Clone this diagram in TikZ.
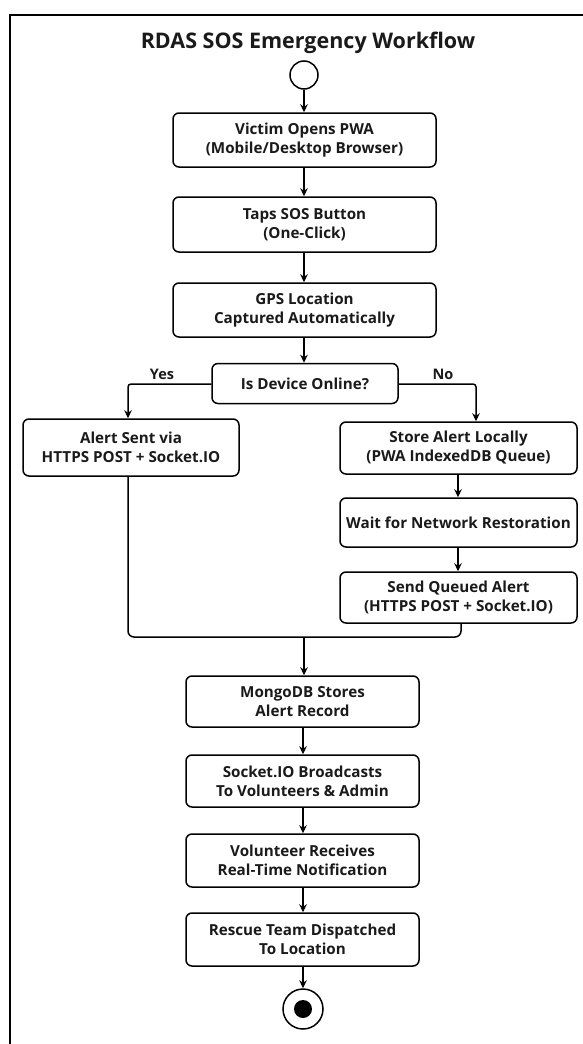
\documentclass[tikz,border=0pt]{standalone}
\usepackage{fontspec}
\setmainfont{Open Sans}
\usetikzlibrary{arrows.meta}
\definecolor{ink}{HTML}{1A1A1A}
\tikzset{
  box/.style={draw=black, line width=1.5pt, rounded corners=6pt, align=center,
    text=ink, font=\bfseries\fontsize{15.2}{19}\selectfont, inner sep=0pt},
  lbl/.style={text=ink, font=\bfseries\fontsize{14.5}{16}\selectfont, inner sep=0pt, anchor=base},
  arr/.style={draw=black, line width=1.5pt, -{Stealth[length=8pt, width=7.5pt]}},
  conn/.style={draw=black, line width=1.5pt},
  frameline/.style={draw=black, line width=2.5pt}
}
\begin{document}
\begin{tikzpicture}[x=1pt, y=-1pt]
\useasboundingbox (0,0) rectangle (582,1044);
\fill[white] (0,0) rectangle (582,1044);
% frame (cropped)
\coordinate (fTL) at (10,15);
\coordinate (fTR) at (584,15);
\coordinate (fBL) at (10,1046);
\draw[frameline] (fBL) -- (fTL) -- (fTR);

\node[text=ink, font=\bfseries\fontsize{21.5}{24}\selectfont, inner sep=0pt, anchor=base] (title) at (308,48) {RDAS SOS Emergency Workflow};

\node[draw=black, line width=1.5pt, circle, minimum size=28pt, inner sep=0pt] (start) at (304,75) {};

\node[box, minimum width=263pt, minimum height=54pt] (b1) at (304.5,140) {Victim Opens PWA\\(Mobile/Desktop Browser)};
\node[box, minimum width=263pt, minimum height=55pt] (b2) at (304.5,224.5) {Taps SOS Button\\(One-Click)};
\node[box, minimum width=263pt, minimum height=54pt] (b3) at (304.5,310) {GPS Location\\Captured Automatically};
\node[box, minimum width=186pt, minimum height=40pt] (dec) at (305,383.5) {Is Device Online?};

\node[box, minimum width=216pt, minimum height=57pt] (alert) at (131,447.5) {Alert Sent via\\HTTPS POST + Socket.IO};
\node[box, minimum width=237pt, minimum height=52pt] (store) at (458.5,448) {Store Alert Locally\\(PWA IndexedDB Queue)};
\node[box, minimum width=237pt, minimum height=49pt] (wait) at (458.5,522.5) {Wait for Network Restoration};
\node[box, minimum width=237pt, minimum height=51pt] (send) at (458.5,597.5) {Send Queued Alert\\(HTTPS POST + Socket.IO)};

\node[box, minimum width=233pt, minimum height=51pt] (mongo) at (302.5,701.5) {MongoDB Stores\\Alert Record};
\node[box, minimum width=233pt, minimum height=52pt] (sock) at (302.5,781) {Socket.IO Broadcasts\\To Volunteers \& Admin};
\node[box, minimum width=233pt, minimum height=53pt] (vol) at (302.5,860.5) {Volunteer Receives\\Real-Time Notification};
\node[box, minimum width=233pt, minimum height=53pt] (resc) at (302.5,939.5) {Rescue Team Dispatched\\To Location};

\node[draw=black, line width=1.5pt, circle, minimum size=40pt, inner sep=0pt] (end) at (303,1009) {};
\fill[black] (end.center) circle (9pt);

\node[lbl] (yes) at (162,379) {Yes};
\node[lbl] (no) at (443,379) {No};

% connectors
\draw[arr] (start) -- (start |- b1.north);
\draw[arr] (b1.south -| start) -- (b2.north -| start);
\draw[arr] (b2.south -| start) -- (b3.north -| start);
\draw[arr] (b3.south -| start) -- (dec.north -| start);

\coordinate (ly) at (128,384);
\coordinate (ry) at (476,384);
\draw[arr, rounded corners=3pt] (dec.west |- ly) -- (ly) -- (ly |- alert.north);
\draw[arr, rounded corners=3pt] (dec.east |- ry) -- (ry) -- (ry |- store.north);

\coordinate (rx) at (458,0);
\draw[arr] (store.south -| rx) -- (wait.north -| rx);
\draw[arr] (wait.south -| rx) -- (send.north -| rx);

\coordinate (merge) at (304,637);
\coordinate (sx) at (461,0);
\draw[conn, rounded corners=6pt] (alert.south -| ly) |- (merge) -| (send.south -| sx);
\draw[arr] (merge) -- (merge |- mongo.north);

\coordinate (cx) at (303,0);
\draw[arr] (mongo.south -| cx) -- (sock.north -| cx);
\draw[arr] (sock.south -| cx) -- (vol.north -| cx);
\draw[arr] (vol.south -| cx) -- (resc.north -| cx);
\draw[arr] (resc.south -| cx) -- (end.north);
\end{tikzpicture}
\end{document}
